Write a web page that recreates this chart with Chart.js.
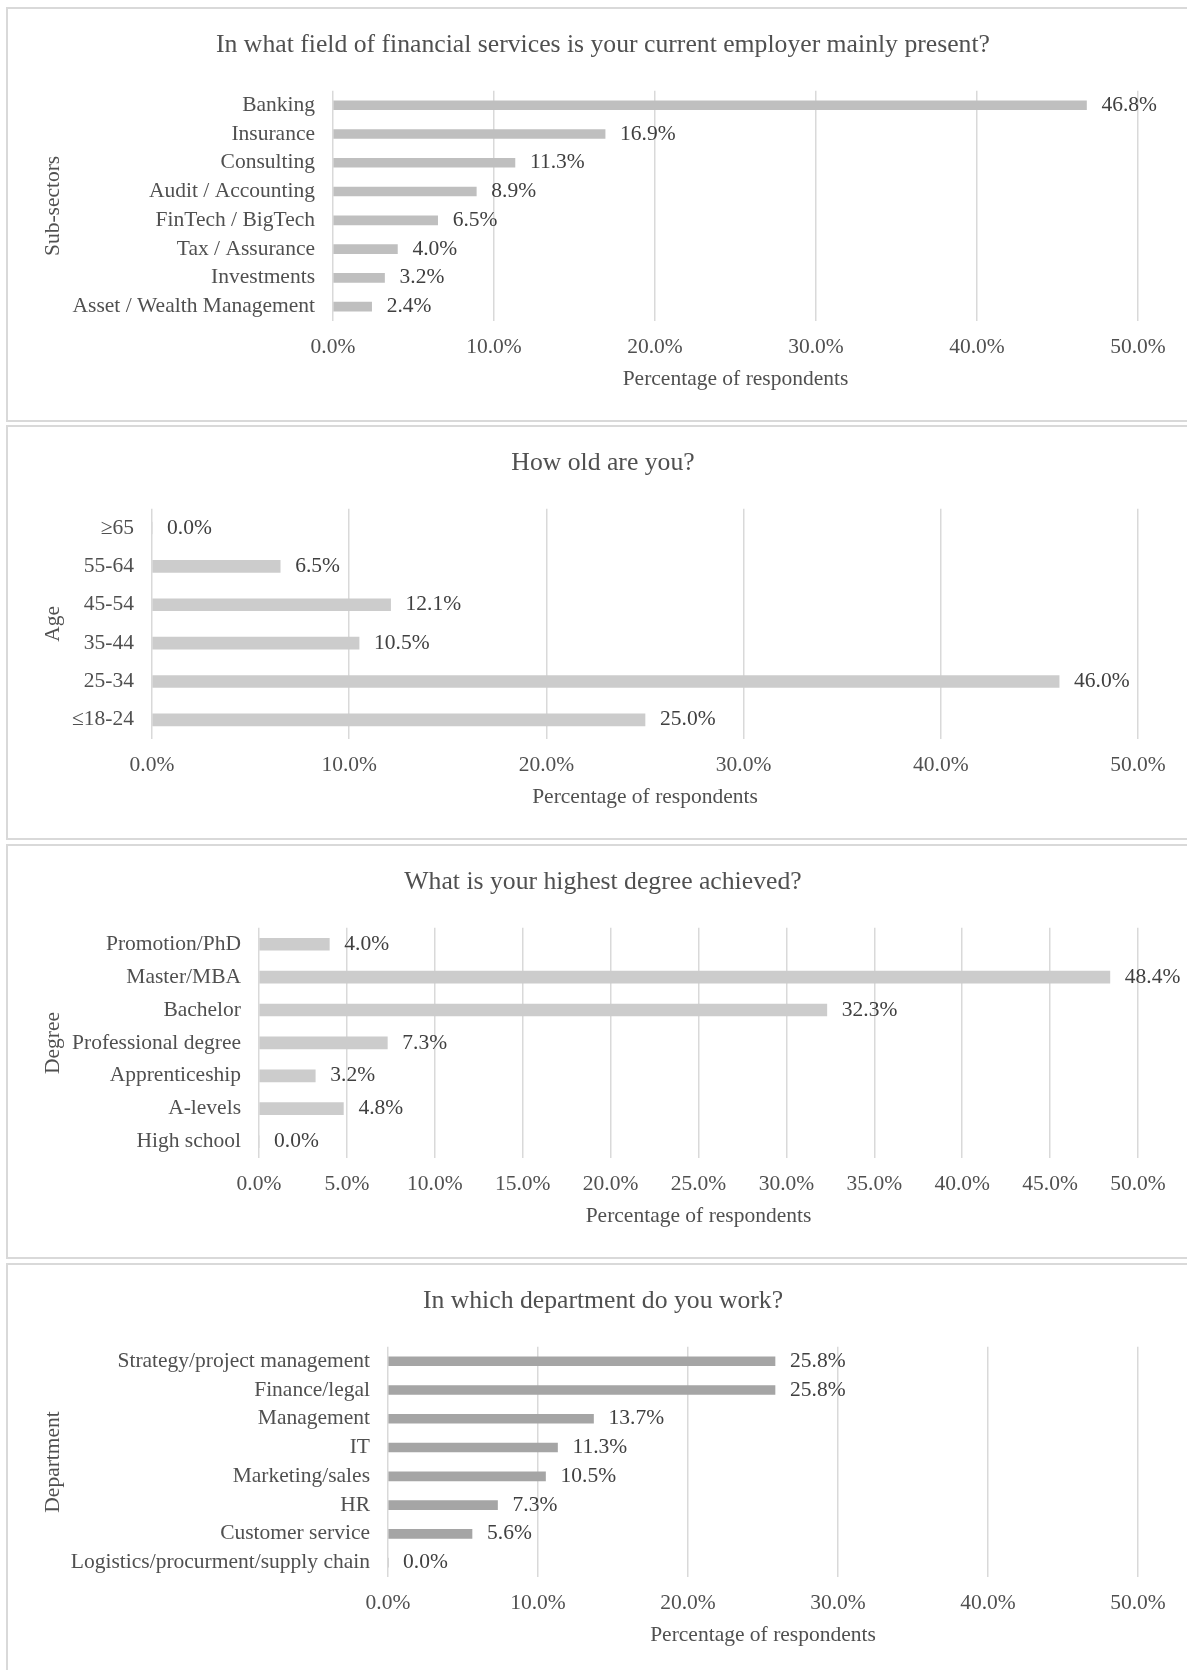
<!DOCTYPE html>
<html>
<head>
<meta charset="utf-8">
<script src="https://cdn.jsdelivr.net/npm/chart.js@4/dist/chart.umd.min.js"></script>
<style>
  html, body { margin: 0; padding: 0; background: #fff; }
  body { width: 1187px; height: 1670px; overflow: hidden; position: relative; }
  .panel { position: absolute; left: 6px; width: 1194px; height: 415px; border: 2px solid #d9d9d9; box-sizing: border-box; background: #fff; }
  .panel canvas { position: absolute; left: 0; top: 0; }
</style>
</head>
<body>
<div class="panel" style="top:7px"><canvas id="sectorChart" width="1190" height="411"></canvas></div>
<div class="panel" style="top:425px"><canvas id="ageChart" width="1190" height="411"></canvas></div>
<div class="panel" style="top:844px"><canvas id="degreeChart" width="1190" height="411"></canvas></div>
<div class="panel" style="top:1263px"><canvas id="deptChart" width="1190" height="411"></canvas></div>

<script>
// --- data (percent of respondents) ---
const sectorLabels = ['Banking', 'Insurance', 'Consulting', 'Audit / Accounting', 'FinTech / BigTech', 'Tax / Assurance', 'Investments', 'Asset / Wealth Management'];
const sectorValues = [46.8, 16.9, 11.3, 8.9, 6.5, 4.0, 3.2, 2.4];

const ageLabels = ['\u226565', '55-64', '45-54', '35-44', '25-34', '\u226418-24'];
const ageValues = [0.0, 6.5, 12.1, 10.5, 46.0, 25.0];

const degreeLabels = ['Promotion/PhD', 'Master/MBA', 'Bachelor', 'Professional degree', 'Apprenticeship', 'A-levels', 'High school'];
const degreeValues = [4.0, 48.4, 32.3, 7.3, 3.2, 4.8, 0.0];

const deptLabels = ['Strategy/project management', 'Finance/legal', 'Management', 'IT', 'Marketing/sales', 'HR', 'Customer service', 'Logistics/procurment/supply chain'];
const deptValues = [25.8, 25.8, 13.7, 11.3, 10.5, 7.3, 5.6, 0.0];

const FONT = '"Liberation Serif", "Times New Roman", serif';
const TEXT = '#505050';

// value labels at the end of each bar
const valueLabels = {
  id: 'valueLabels',
  afterDatasetsDraw(chart) {
    const ctx = chart.ctx;
    const meta = chart.getDatasetMeta(0);
    const values = chart.data.datasets[0].data;
    ctx.save();
    ctx.font = '21.5px ' + FONT;
    ctx.fillStyle = '#404040';
    ctx.textAlign = 'left';
    ctx.textBaseline = 'middle';
    meta.data.forEach((bar, i) => {
      ctx.fillText(values[i].toFixed(1) + '%', bar.x + 15, bar.y);
    });
    ctx.restore();
  }
};

function drawPanel(id, title, yTitle, labels, values, opts) {
  const ctx = document.getElementById(id).getContext('2d');
  return new Chart(ctx, {
    type: 'bar',
    data: {
      labels: labels,
      datasets: [{
        data: values,
        backgroundColor: opts.color,
        barThickness: opts.thickness,
      }],
    },
    options: {
      indexAxis: 'y',
      responsive: false,
      animation: false,
      layout: { padding: 0 },
      plugins: {
        legend: { display: false },
        tooltip: { enabled: false },
        title: {
          display: true,
          text: title,
          color: TEXT,
          font: { family: FONT, size: 25.7, weight: 'normal' },
          padding: { top: 21, bottom: 30 },
        },
      },
      scales: {
        x: {
          min: 0,
          max: 50,
          border: { display: false },
          grid: { color: '#d9d9d9', lineWidth: 1.5, drawTicks: false },
          ticks: {
            stepSize: opts.step,
            padding: 13,
            color: TEXT,
            font: { family: FONT, size: 21.5 },
            callback: (v) => v.toFixed(1) + '%',
          },
          title: {
            display: true,
            text: 'Percentage of respondents',
            color: TEXT,
            font: { family: FONT, size: 21.5 },
            padding: { top: 0, bottom: 28 },
          },
          afterFit: (scale) => {
            scale.height = 99;
            scale.paddingRight = 60;
          },
        },
        y: {
          border: { display: false },
          grid: { display: false, drawTicks: false },
          ticks: {
            padding: 18,
            color: TEXT,
            font: { family: FONT, size: 21.5 },
            autoSkip: false,
          },
          title: {
            display: true,
            text: yTitle,
            color: TEXT,
            font: { family: FONT, size: 21.5 },
            padding: { top: 32, bottom: 0 },
          },
          afterFit: (scale) => {
            scale.width = opts.plotLeft;
          },
        },
      },
    },
    plugins: [valueLabels],
  });
}

drawPanel('sectorChart', 'In what field of financial services is your current employer mainly present?', 'Sub-sectors',
  sectorLabels, sectorValues, { color: '#bfbfbf', thickness: 9, plotLeft: 325, step: 10 });
drawPanel('ageChart', 'How old are you?', 'Age',
  ageLabels, ageValues, { color: '#cccccc', thickness: 12, plotLeft: 144, step: 10 });
drawPanel('degreeChart', 'What is your highest degree achieved?', 'Degree',
  degreeLabels, degreeValues, { color: '#cccccc', thickness: 12, plotLeft: 251, step: 5 });
drawPanel('deptChart', 'In which department do you work?', 'Department',
  deptLabels, deptValues, { color: '#a5a5a5', thickness: 9, plotLeft: 380, step: 10 });
</script>
</body>
</html>
